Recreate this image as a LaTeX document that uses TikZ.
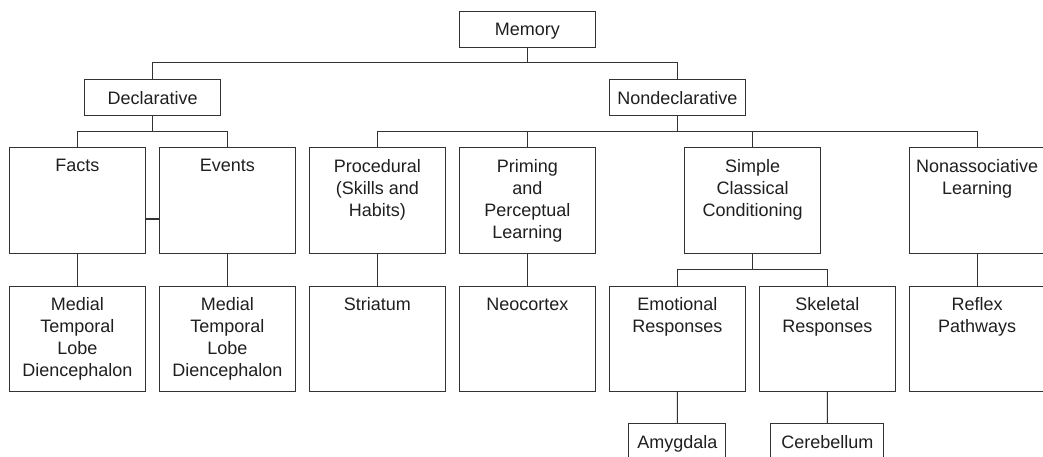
\documentclass[tikz,border=0pt]{standalone}
\usepackage{fontspec}
\setmainfont{Liberation Sans}
\newcommand\mkbox[6]{%
  \node[box, minimum width=#4pt, minimum height=#5pt] (#1) at (#2,#3) {};
  \node[txt] (#1t) at ([yshift=-12pt]#1.north) {#6};}
\begin{document}
\begin{tikzpicture}[x=1pt,y=-1pt,
  box/.style={draw=black!80, line width=1.1pt, inner sep=0pt, anchor=north west},
  txt/.style={anchor=north, inner sep=0pt, align=center, text=black!88, font=\fontsize{18}{22}\selectfont},
  conn/.style={draw=black!80, line width=1.1pt}]
\clip (0,0) rectangle (1043,456);
\useasboundingbox (0,0) rectangle (1043,456);
% level 0
\mkbox{mem}{459}{11}{135.5}{36}{Memory}
% level 1
\mkbox{decl}{84.3}{79}{135.7}{36}{Declarative}
\mkbox{nond}{608.7}{79}{136.3}{36}{Nondeclarative}
% level 2
\mkbox{facts}{9}{147.3}{135.7}{106}{Facts}
\mkbox{events}{159}{147.3}{135.7}{106}{Events}
\mkbox{proc}{309}{147.3}{135.7}{106}{Procedural\\(Skills and\\Habits)}
\mkbox{prim}{459}{147.3}{135.7}{106}{Priming\\and\\Perceptual\\Learning}
\mkbox{simple}{684.3}{147.3}{135.7}{106}{Simple\\Classical\\Conditioning}
\mkbox{nonas}{908.7}{147.3}{135.7}{106}{Nonassociative\\Learning}
% level 3
\mkbox{mtla}{9}{285.7}{135.7}{105.3}{Medial\\Temporal\\Lobe\\Diencephalon}
\mkbox{mtlb}{159}{285.7}{135.7}{105.3}{Medial\\Temporal\\Lobe\\Diencephalon}
\mkbox{stri}{309}{285.7}{135.7}{105.3}{Striatum}
\mkbox{neo}{459}{285.7}{135.7}{105.3}{Neocortex}
\mkbox{emo}{608.7}{285.7}{136.3}{105.3}{Emotional\\Responses}
\mkbox{skel}{759}{285.7}{135.7}{105.3}{Skeletal\\Responses}
\mkbox{refl}{908.7}{285.7}{135.7}{105.3}{Reflex\\Pathways}
% level 4
\mkbox{amy}{628.3}{423.3}{97}{40}{Amygdala}
\mkbox{cer}{770.3}{423.3}{113}{40}{Cerebellum}
% connectors
\draw[conn] (mem.south) -- (mem.south |- 0,62.7);
\draw[conn] (decl.north) |- (nond.north |- 0,62.7) -- (nond.north);
\draw[conn] (decl.south) -- (decl.south |- 0,131.3);
\draw[conn] (facts.north) |- (events.north |- 0,131.3) -- (events.north);
\draw[conn] (nond.south) -- (nond.south |- 0,131.3);
\draw[conn] (proc.north) |- (nonas.north |- 0,131.3) -- (nonas.north);
\draw[conn] (prim.north) -- (prim.north |- 0,131.3);
\draw[conn] (simple.north) -- (simple.north |- 0,131.3);
\draw[conn] (facts.east |- 0,219) -- (events.west |- 0,219);
\draw[conn] (facts.south) -- (mtla.north);
\draw[conn] (events.south) -- (mtlb.north);
\draw[conn] (proc.south) -- (stri.north);
\draw[conn] (prim.south) -- (neo.north);
\draw[conn] (nonas.south) -- (refl.north);
\draw[conn] (simple.south) -- (simple.south |- 0,269.3);
\draw[conn] (emo.north) |- (skel.north |- 0,269.3) -- (skel.north);
\draw[conn] (emo.south) -- (amy.north);
\draw[conn] (skel.south) -- (cer.north);
\end{tikzpicture}
\end{document}
